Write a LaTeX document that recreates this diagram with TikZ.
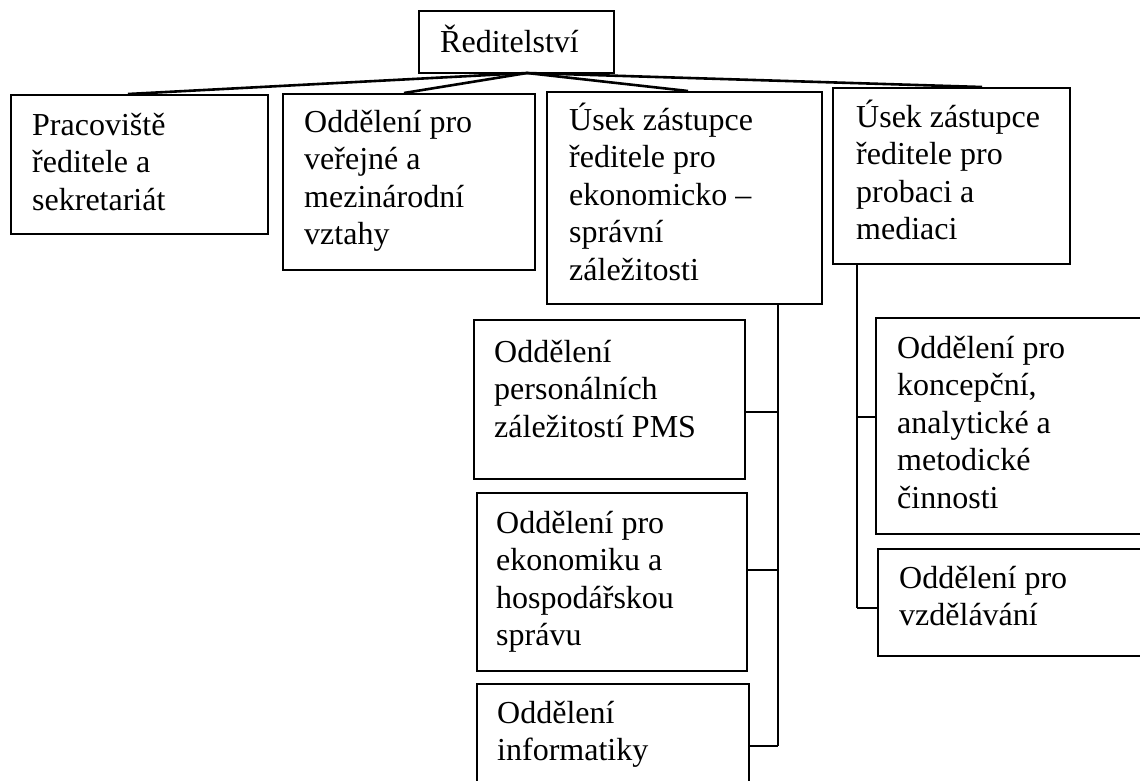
\documentclass[tikz,border=0pt]{standalone}
\usepackage{fontspec}
\setmainfont{Liberation Serif}
\usetikzlibrary{calc}
\newcommand{\boxtext}[1]{\parbox[t]{300pt}{\raggedright\fontsize{32}{37.5}\selectfont #1}}
\begin{document}
\begin{tikzpicture}[x=1pt,y=-1pt,
  box/.style={draw, line width=1.8pt, rectangle, inner sep=0pt, anchor=north west},
  txt/.style={anchor=base west, inner sep=0pt},
  conn/.style={line width=2pt},
  topconn/.style={line width=2.6pt}]
\useasboundingbox (0,0) rectangle (1140,780);
\clip (0,0) rectangle (1140,780);
\fill[white] (0,0) rectangle (1140,780);

% top box
\node[box, minimum width=195pt, minimum height=62pt] (top) at (418,10) {};
\node[txt] (ttop) at (440,52) {\boxtext{Ředitelství}};

% first row
\node[box, minimum width=257pt, minimum height=139pt] (b1) at (10,94) {};
\node[txt] (t1) at (32,135) {\boxtext{Pracoviště\\ředitele a\\sekretariát}};
\node[box, minimum width=252pt, minimum height=176pt] (b2) at (282,93) {};
\node[txt] (t2) at (304,132) {\boxtext{Oddělení pro\\veřejné a\\mezinárodní\\vztahy}};
\node[box, minimum width=275pt, minimum height=212pt] (b3) at (546,91) {};
\node[txt] (t3) at (569,130) {\boxtext{Úsek zástupce\\ředitele pro\\ekonomicko –\\správní\\záležitosti}};
\node[box, minimum width=237pt, minimum height=176pt] (b4) at (832,87) {};
\node[txt] (t4) at (856,127) {\boxtext{Úsek zástupce\\ředitele pro\\probaci a\\mediaci}};

% children of b3
\node[box, minimum width=271pt, minimum height=159pt] (c1) at (473,319) {};
\node[txt] (tc1) at (494,362) {\boxtext{Oddělení\\personálních\\záležitostí PMS}};
\node[box, minimum width=270pt, minimum height=178pt] (c2) at (476,492) {};
\node[txt] (tc2) at (496,533) {\boxtext{Oddělení pro\\ekonomiku a\\hospodářskou\\správu}};
\node[box, minimum width=272pt, minimum height=130pt] (c3) at (476,683) {};
\node[txt] (tc3) at (497,723) {\boxtext{Oddělení\\informatiky}};

% children of b4
\node[box, minimum width=290pt, minimum height=216pt] (d1) at (875,317) {};
\node[txt] (td1) at (897,358) {\boxtext{Oddělení pro\\koncepční,\\analytické a\\metodické\\činnosti}};
\node[box, minimum width=290pt, minimum height=107pt] (d2) at (877,548) {};
\node[txt] (td2) at (899,588) {\boxtext{Oddělení pro\\vzdělávání}};

% connectors from top
\coordinate (hub) at (527,73);
\draw[topconn] (hub) -- (128,0 |- b1.north);
\draw[topconn] (hub) -- (404,0 |- b2.north);
\draw[topconn] (hub) -- (688,0 |- b3.north);
\draw[topconn] (hub) -- (982,0 |- b4.north);

% b3 branch
\coordinate (v3) at (778,746);
\draw[conn] (778,0 |- b3.south) -- (v3);
\draw[conn] (c1.east |- 0,412) -- (778,412);
\draw[conn] (c2.east |- 0,570) -- (778,570);
\draw[conn] (c3.east |- 0,746) -- (v3);

% b4 branch
\coordinate (v4) at (857,608);
\draw[conn] (857,0 |- b4.south) -- (v4);
\draw[conn] (d1.west |- 0,417) -- (857,417);
\draw[conn] (d2.west |- 0,608) -- (v4);
\end{tikzpicture}
\end{document}
